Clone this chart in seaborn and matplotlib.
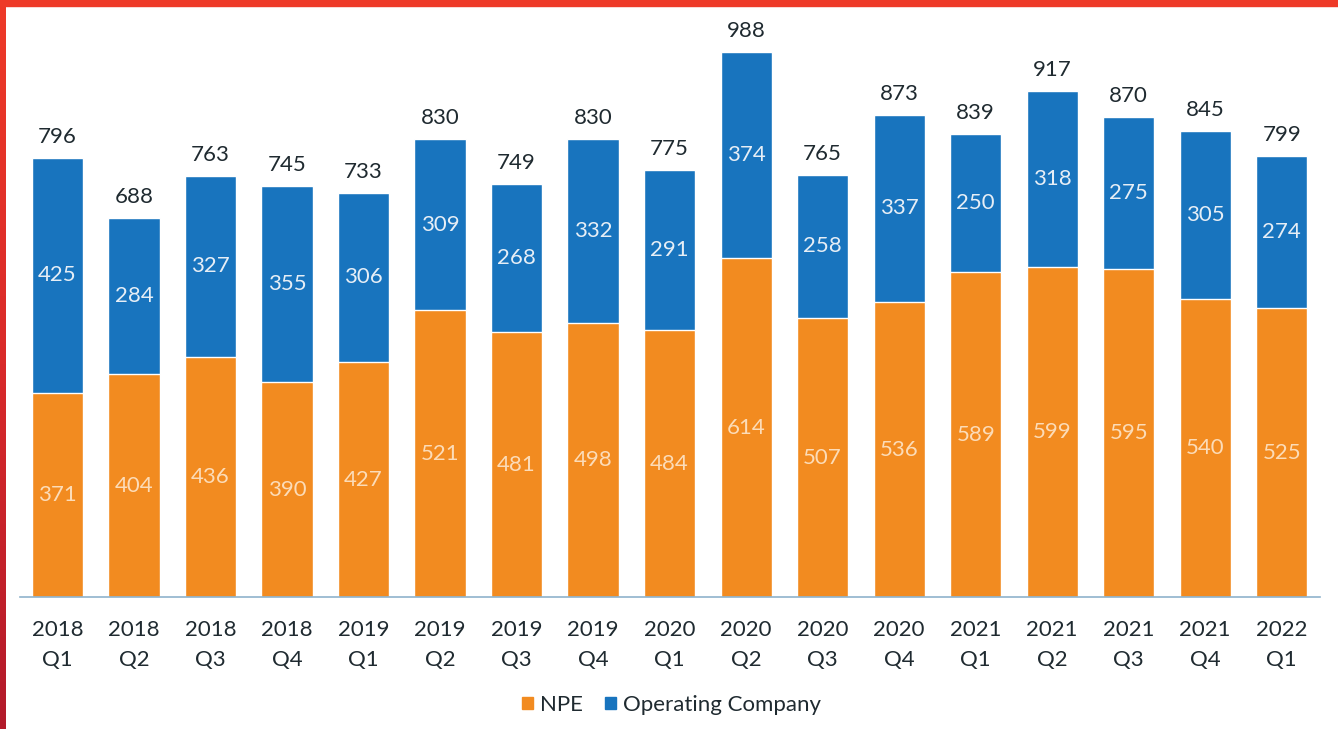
import matplotlib
matplotlib.use("Agg")
import matplotlib.pyplot as plt
import seaborn as sns
import pandas as pd
import numpy as np
from matplotlib.patches import Rectangle, Patch

# data
quarters = ["2018\nQ1", "2018\nQ2", "2018\nQ3", "2018\nQ4", "2019\nQ1", "2019\nQ2",
            "2019\nQ3", "2019\nQ4", "2020\nQ1", "2020\nQ2", "2020\nQ3", "2020\nQ4",
            "2021\nQ1", "2021\nQ2", "2021\nQ3", "2021\nQ4", "2022\nQ1"]
npe = [371, 404, 436, 390, 427, 521, 481, 498, 484, 614, 507, 536, 589, 599, 595, 540, 525]
operating = [425, 284, 327, 355, 306, 309, 268, 332, 291, 374, 258, 337, 250, 318, 275, 305, 274]

df = pd.DataFrame({"quarter": quarters, "NPE": npe, "Operating Company": operating})
df["total"] = df["NPE"] + df["Operating Company"]

orange = "#F28B20"
blue = "#1874BE"
txt = "#1f2a30"
fs = 16

sns.set_theme(style="white")
plt.rcParams["font.family"] = ["Lato", "DejaVu Sans"]

fig = plt.figure(figsize=(13.38, 7.29), dpi=100)
ax = fig.add_axes([0.01495, 0.1804, 0.9716, 0.8059])

# stacked bars: total in blue, NPE drawn over it in orange
sns.barplot(data=df, x="quarter", y="total", color=blue, width=0.67, saturation=1, ax=ax)
sns.barplot(data=df, x="quarter", y="NPE", color=orange, width=0.67, saturation=1, ax=ax)

for i, row in df.iterrows():
    ax.text(i, row["total"] + 20, str(row["total"]), ha="center", va="bottom",
            fontsize=fs, color=txt)
    ax.text(i, row["NPE"] + row["Operating Company"] / 2, str(row["Operating Company"]),
            ha="center", va="center", fontsize=fs, color="#e6eef6")
    ax.text(i, row["NPE"] / 2, str(row["NPE"]), ha="center", va="center",
            fontsize=fs, color="#fcdcb8")

ax.set_xlim(-0.49, 16.5)
ax.set_ylim(0, 1064)
ax.set_xlabel("")
ax.set_ylabel("")
ax.set_yticks([])
ax.tick_params(axis="x", length=0, pad=16, labelsize=fs, labelcolor=txt)
for lab in ax.get_xticklabels():
    lab.set_linespacing(1.62)
for s in ["top", "right", "left"]:
    ax.spines[s].set_visible(False)
ax.spines["bottom"].set_color("#8fb3cc")
ax.spines["bottom"].set_linewidth(1.2)

handles = [Patch(color=orange, label="NPE"), Patch(color=blue, label="Operating Company")]
fig.legend(handles=handles, loc="center", bbox_to_anchor=(0.502, 0.033), ncol=2,
           frameon=False, fontsize=fs, handlelength=0.5, handleheight=0.5,
           handletextpad=0.3, columnspacing=1.0, labelcolor=txt)

# red frame on top and left edge
fig.patches.append(Rectangle((0, 1 - 6 / 729), 1, 6 / 729, transform=fig.transFigure,
                             color="#EE3A28", zorder=10))
strip = fig.add_axes([0, 0, 6 / 1338, 1])
grad = np.linspace(0, 1, 256).reshape(-1, 1)
strip.imshow(grad, aspect="auto", cmap=matplotlib.colors.LinearSegmentedColormap.from_list(
    "edge", ["#EE3A28", "#D92A2A", "#B21A2A"]))
strip.axis("off")

fig.savefig("out.png", dpi=100)
